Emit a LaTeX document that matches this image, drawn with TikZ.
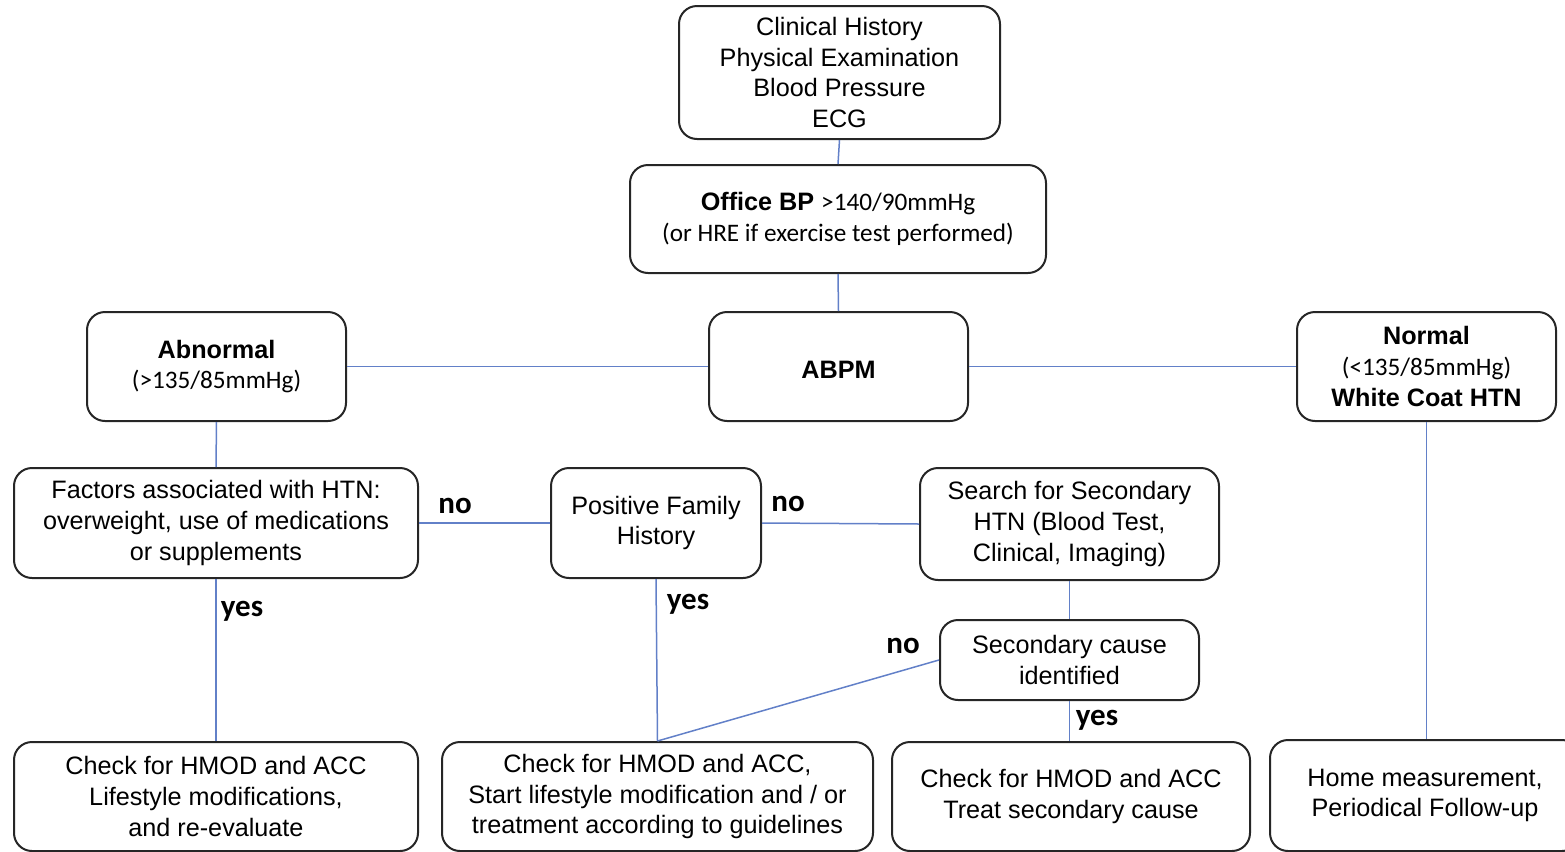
\documentclass[tikz,border=0pt]{standalone}
\usepackage{fontspec}
\setmainfont{Liberation Sans}
\newfontfamily\calib{Carlito}
\definecolor{linkblue}{RGB}{98,128,200}
\begin{document}
\begin{tikzpicture}[x=0.5pt,y=-0.5pt,
  box/.style={draw=black!85, line width=1pt, rounded corners=9pt, fill=white, align=center, inner sep=0pt,
    font=\fontsize{12.6}{15.3}\selectfont, execute at begin node={\rule{0pt}{12.4pt}}},
  sz/.style 2 args={minimum width=#1*0.5pt, minimum height=#2*0.5pt},
  conn/.style={draw=linkblue, line width=0.75pt},
  lab/.style={font=\calib\bfseries\fontsize{15.5}{18}\selectfont, inner sep=0pt}]
\useasboundingbox (0,0) rectangle (1565,852);
\clip (0,0) rectangle (1565,852);
% nodes
\node[box, sz={321}{133}] (hist) at (839.5,72.5) {Clinical History\\Physical Examination\\Blood Pressure\\ECG};
\node[box, sz={416}{108}] (office) at (838,219) {\textbf{Office BP} {\calib >140/90mmHg}\\{\calib (or HRE if exercise test performed)}};
\node[box, sz={259}{109}] (abpm) at (838.5,366.5) {\textbf{ABPM}};
\node[box, sz={259}{109}] (abn) at (216.5,366.5) {\textbf{Abnormal}\\{\calib (>135/85mmHg)}};
\node[box, sz={259}{109}] (norm) at (1426.5,366.5) {\textbf{Normal}\\{\calib (<135/85mmHg)}\\\textbf{White Coat HTN}};
\node[box, sz={404}{110}] (fact) at (216,523) {Factors associated with HTN:\\overweight, use of medications\\or supplements};
\node[box, sz={210}{110}] (fam) at (656,523) {Positive Family\\History};
\node[box, sz={299}{112}] (search) at (1069.5,524) {Search for Secondary\\HTN (Blood Test,\\Clinical, Imaging)};
\node[box, sz={259}{80}] (sec) at (1069.5,660) {Secondary cause\\identified};
\node[box, sz={404}{109}] (b1) at (216,796.5) {Check for HMOD and ACC\\Lifestyle modifications,\\and re-evaluate};
\node[box, sz={431}{109}] (b2) at (657.5,796.5) {Check for HMOD and ACC,\\Start lifestyle modification and / or\\treatment according to guidelines};
\node[box, sz={358}{109}] (b3) at (1071,796.5) {Check for HMOD and ACC\\Treat secondary cause};
\node[box, sz={310}{111}] (b4) at (1425,795.5) {Home measurement,\\Periodical Follow-up};
% connectors
\draw[conn] (hist.south) -- (office.north);
\draw[conn] (office.south) -- (abpm.north);
\draw[conn] (abn.east) -- (abpm.west);
\draw[conn] (abpm.east) -- (norm.west);
\draw[conn] (abn.south) -- (fact.north);
\draw[conn] (fact.east) -- (fam.west);
\draw[conn] (fam.east) -- (search.west);
\draw[conn] (fact.south) -- (b1.north);
\draw[conn] (fam.south) -- (b2.north);
\draw[conn] (search.south) -- (sec.north);
\draw[conn] (sec.west) -- (b2.north);
\draw[conn] (sec.south) -- (sec.south |- b3.north);
\draw[conn] (norm.south) -- (norm.south |- b4.north);
% labels
\node[lab] (no1) at (455,506) {no};
\node[lab] (no2) at (788,504) {no};
\node[lab] (no3) at (903,646) {no};
\node[lab] (yes1) at (242,611) {yes};
\node[lab] (yes2) at (688,604) {yes};
\node[lab] (yes3) at (1097,720) {yes};
\end{tikzpicture}
\end{document}
